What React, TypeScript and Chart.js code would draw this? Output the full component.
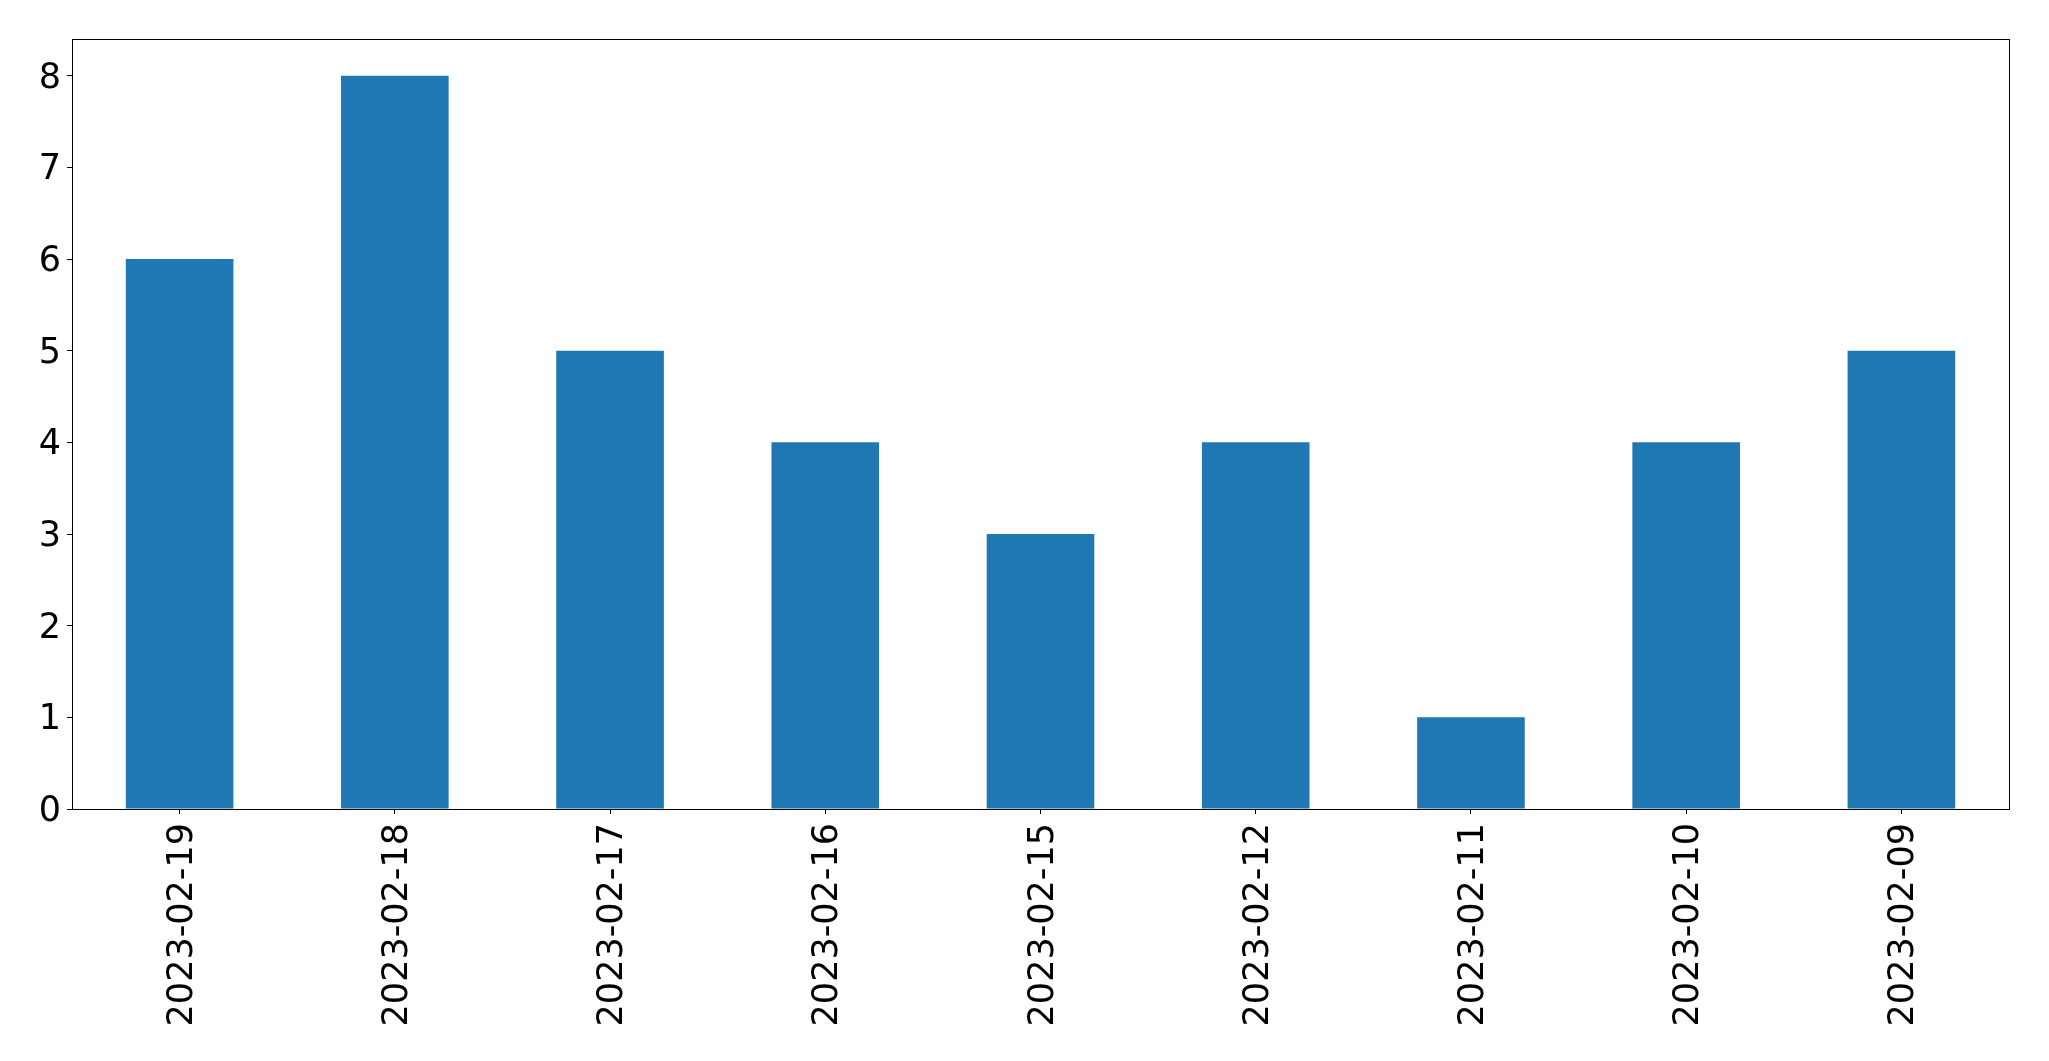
import React, { useEffect, useRef } from "react";
import { Chart, registerables } from "chart.js";

Chart.register(...registerables);

const categories = [
  "2023-02-19",
  "2023-02-18",
  "2023-02-17",
  "2023-02-16",
  "2023-02-15",
  "2023-02-12",
  "2023-02-11",
  "2023-02-10",
  "2023-02-09",
];
const counts = [6, 8, 5, 4, 3, 4, 1, 4, 5];
const yMin = 0;
const yMax = 8.4;
const yStep = 1;

const frame = {
  id: "frame",
  afterDraw(chart: any) {
    const { ctx, chartArea } = chart;
    ctx.save();
    ctx.strokeStyle = "#000";
    ctx.lineWidth = 1;
    ctx.strokeRect(
      Math.round(chartArea.left) + 0.5,
      Math.round(chartArea.top) + 0.5,
      Math.round(chartArea.right - chartArea.left),
      Math.round(chartArea.bottom - chartArea.top)
    );
    ctx.restore();
  },
};

export default function App() {
  const ref = useRef<HTMLCanvasElement | null>(null);
  useEffect(() => {
    if (!ref.current) return;
    const font = { family: "DejaVu Sans", size: 35 };
    const chart = new Chart(ref.current, {
      type: "bar",
      data: {
        labels: categories,
        datasets: [
          {
            data: counts,
            backgroundColor: "#1f77b4",
            borderWidth: 0,
            categoryPercentage: 1,
            barPercentage: 0.5,
          },
        ],
      },
      options: {
        animation: false,
        responsive: false,
        maintainAspectRatio: false,
        layout: { padding: { top: 39, right: 40, left: 0, bottom: 0 } },
        plugins: {
          legend: { display: false },
          tooltip: { enabled: false },
        },
        scales: {
          x: {
            offset: true,
            grid: {
              offset: false,
              drawOnChartArea: false,
              drawTicks: true,
              tickLength: 5,
              tickColor: "#000",
              tickWidth: 1,
            },
            border: { display: false },
            ticks: {
              color: "#000",
              font,
              minRotation: 90,
              maxRotation: 90,
              padding: 9,
              labelOffset: 3,
              autoSkip: false,
            },
            afterFit(scale: any) {
              scale.height = 252;
            },
          },
          y: {
            min: yMin,
            max: yMax,
            grid: {
              drawOnChartArea: false,
              drawTicks: true,
              tickLength: 5,
              tickColor: "#000",
              tickWidth: 1,
            },
            border: { display: false },
            ticks: {
              stepSize: yStep,
              includeBounds: false,
              color: "#000",
              font,
              padding: 6,
              labelOffset: 3,
            },
            afterFit(scale: any) {
              scale.width = 72;
            },
          },
        },
      },
      plugins: [frame],
    });
    return () => chart.destroy();
  }, []);
  return (
    <div style={{ position: "absolute", left: 0, top: 0, width: 2049, height: 1061, background: "#fff" }}>
      <canvas ref={ref} width={2049} height={1061} style={{ width: 2049, height: 1061 }} />
    </div>
  );
}
